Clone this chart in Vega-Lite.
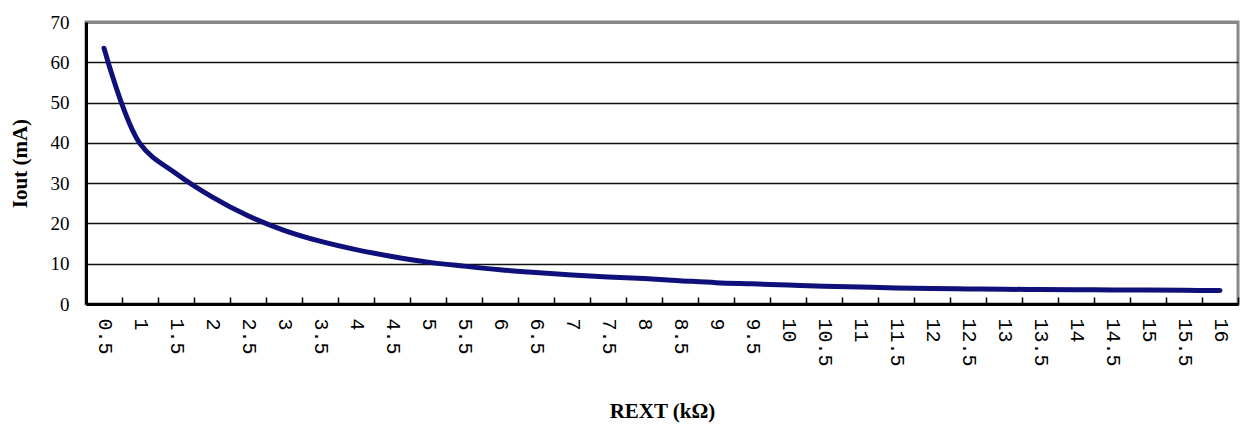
{
  "$schema": "https://vega.github.io/schema/vega-lite/v6.json",
  "width": 1152,
  "height": 282,
  "autosize": "none",
  "padding": {"left": 86, "top": 22, "right": 4, "bottom": 125},
  "background": "white",
  "view": {"stroke": "#888888", "strokeWidth": 3},
  "data": {"values": [
    {"rext": 0.5, "iout": 63.5},
    {"rext": 1, "iout": 39.8},
    {"rext": 1.5, "iout": 32.4},
    {"rext": 2, "iout": 26.6},
    {"rext": 2.5, "iout": 21.9},
    {"rext": 3, "iout": 18.3},
    {"rext": 3.5, "iout": 15.6},
    {"rext": 4, "iout": 13.5},
    {"rext": 4.5, "iout": 11.8},
    {"rext": 5, "iout": 10.4},
    {"rext": 5.5, "iout": 9.4},
    {"rext": 6, "iout": 8.5},
    {"rext": 6.5, "iout": 7.8},
    {"rext": 7, "iout": 7.2},
    {"rext": 7.5, "iout": 6.7},
    {"rext": 8, "iout": 6.3},
    {"rext": 8.5, "iout": 5.8},
    {"rext": 9, "iout": 5.3},
    {"rext": 9.5, "iout": 5.0},
    {"rext": 10, "iout": 4.7},
    {"rext": 10.5, "iout": 4.4},
    {"rext": 11, "iout": 4.2},
    {"rext": 11.5, "iout": 4.0},
    {"rext": 12, "iout": 3.85},
    {"rext": 12.5, "iout": 3.75},
    {"rext": 13, "iout": 3.65},
    {"rext": 13.5, "iout": 3.6},
    {"rext": 14, "iout": 3.55},
    {"rext": 14.5, "iout": 3.5},
    {"rext": 15, "iout": 3.45},
    {"rext": 15.5, "iout": 3.4},
    {"rext": 16, "iout": 3.35}
  ]},
  "mark": {"type": "line", "color": "#10107a", "strokeWidth": 5, "interpolate": "catmull-rom", "strokeCap": "round", "strokeJoin": "round"},
  "encoding": {
    "x": {
      "field": "rext",
      "type": "quantitative",
      "scale": {"domain": [0.25, 16.25], "nice": false, "zero": false},
      "axis": {
        "title": "REXT (kΩ)",
        "titleFont": "Liberation Serif",
        "titleFontSize": 21,
        "titleFontWeight": "bold",
        "titleColor": "black",
        "titlePadding": 34,
        "values": [0.5,1,1.5,2,2.5,3,3.5,4,4.5,5,5.5,6,6.5,7,7.5,8,8.5,9,9.5,10,10.5,11,11.5,12,12.5,13,13.5,14,14.5,15,15.5,16],
        "format": "~g",
        "grid": false,
        "ticks": true,
        "tickSize": -7,
        "tickWidth": 1.5,
        "tickColor": "black",
        "tickOffset": 18,
        "labelOffset": -18,
        "labelAngle": 90,
        "labelAlign": "left",
        "labelBaseline": "middle",
        "labelFont": "Liberation Mono",
        "labelFontSize": 20,
        "labelColor": "black",
        "labelPadding": 21,
        "labelOverlap": false,
        "labelFlush": false,
        "domainColor": "black",
        "domainWidth": 3
      }
    },
    "y": {
      "field": "iout",
      "type": "quantitative",
      "scale": {"domain": [0, 70], "nice": false},
      "axis": {
        "title": "Iout (mA)",
        "titleFont": "Liberation Serif",
        "titleFontSize": 21,
        "titleFontWeight": "bold",
        "titleColor": "black",
        "titlePadding": 20,
        "values": [0,10,20,30,40,50,60,70],
        "grid": true,
        "gridColor": {"condition": {"test": "datum.value === 70", "value": "#888888"}, "value": "#111111"},
        "gridWidth": {"condition": {"test": "datum.value === 70", "value": 3}, "value": 1.6},
        "ticks": false,
        "labelFont": "Liberation Serif",
        "labelFontSize": 19,
        "labelColor": "black",
        "labelPadding": 17,
        "domainColor": "black",
        "domainWidth": 3
      }
    }
  }
}
